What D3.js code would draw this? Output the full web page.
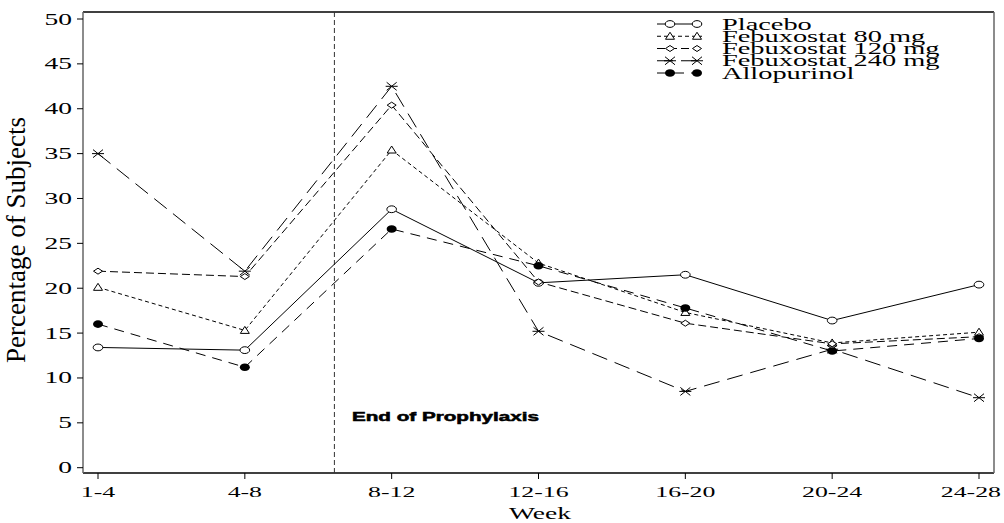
<!DOCTYPE html>
<html>
<head>
<meta charset="utf-8">
<script src="https://cdn.jsdelivr.net/npm/d3@7"></script>
<style>
  body { margin: 0; background: #fff; }
  svg { display: block; }
</style>
</head>
<body>
<div id="chart"></div>
<script>
// data
const weeks = ["1-4", "4-8", "8-12", "12-16", "16-20", "20-24", "24-28"];
const placebo = [13.4, 13.1, 28.8, 20.6, 21.5, 16.4, 20.4];
const febux80 = [20.1, 15.3, 35.4, 22.8, 17.3, 13.9, 15.1];
const febux120 = [21.9, 21.3, 40.4, 20.7, 16.1, 13.8, 14.6];
const febux240 = [35.0, 21.9, 42.5, 15.2, 8.5, 13.2, 7.8];
const allopurinol = [16.0, 11.2, 26.6, 22.5, 17.8, 13.0, 14.4];
const yTicks = [0, 5, 10, 15, 20, 25, 30, 35, 40, 45, 50];
const prophylaxisEnd = 1.61; // between 4-8 and 8-12

const series = [
  { name: "Placebo", values: placebo, dash: null, marker: "circle" },
  { name: "Febuxostat 80 mg", values: febux80, dash: "4,3", marker: "triangle" },
  { name: "Febuxostat 120 mg", values: febux120, dash: "8,4", marker: "diamond" },
  { name: "Febuxostat 240 mg", values: febux240, dash: "16,8", marker: "star" },
  { name: "Allopurinol", values: allopurinol, dash: "10,7", marker: "dot" }
];

const W = 1004, H = 523;
const SX = 1.72; // glyphs in the picture are wide
const serif = "'Liberation Serif', 'Times New Roman', serif";
const frame = { left: 83, right: 994, top: 12, bottom: 473 };

const svg = d3.select("#chart").append("svg")
  .attr("width", W).attr("height", H);

const x = d3.scaleLinear().domain([0, weeks.length - 1]).range([98, 979]);
const y = d3.scaleLinear().domain([0, 50]).range([467.7, 19]);

function wideText(g, tx, ty, str, anchor, size, opts = {}) {
  return g.append("text")
    .attr("transform", `translate(${tx},${ty}) scale(${SX},1)`)
    .attr("text-anchor", anchor)
    .style("font-family", opts.family || serif)
    .style("font-size", size + "px")
    .style("font-weight", opts.weight || "normal")
    .attr("fill", "#000")
    .text(str);
}

function drawMarker(g, type, cx, cy) {
  if (type === "circle") {
    g.append("ellipse").attr("cx", cx).attr("cy", cy).attr("rx", 4.8).attr("ry", 3.4)
      .attr("fill", "#fff").attr("stroke", "#000").attr("stroke-width", 1);
  } else if (type === "dot") {
    g.append("ellipse").attr("cx", cx).attr("cy", cy).attr("rx", 5).attr("ry", 3.8)
      .attr("fill", "#000");
  } else if (type === "triangle") {
    g.append("path")
      .attr("d", `M${cx - 4.5},${cy + 3}L${cx + 4.5},${cy + 3}L${cx},${cy - 4}Z`)
      .attr("fill", "#fff").attr("stroke", "#000").attr("stroke-width", 1);
  } else if (type === "diamond") {
    g.append("path")
      .attr("d", `M${cx - 4.5},${cy}L${cx},${cy - 3}L${cx + 4.5},${cy}L${cx},${cy + 3}Z`)
      .attr("fill", "#fff").attr("stroke", "#000").attr("stroke-width", 1);
  } else if (type === "star") {
    g.append("path")
      .attr("d", `M${cx - 5},${cy - 4}L${cx + 5},${cy + 4}M${cx - 5},${cy + 4}L${cx + 5},${cy - 4}M${cx - 6},${cy}L${cx + 6},${cy}`)
      .attr("fill", "none").attr("stroke", "#000").attr("stroke-width", 1);
  }
}

// frame
svg.append("line").attr("x1", frame.left).attr("x2", frame.right)
  .attr("y1", frame.top).attr("y2", frame.top).attr("stroke", "#000").attr("stroke-width", 1.5);
svg.append("line").attr("x1", frame.left).attr("x2", frame.right)
  .attr("y1", frame.bottom).attr("y2", frame.bottom).attr("stroke", "#000").attr("stroke-width", 1.5);
svg.append("line").attr("x1", frame.left).attr("x2", frame.left)
  .attr("y1", frame.top).attr("y2", frame.bottom).attr("stroke", "#666").attr("stroke-width", 1.5);
svg.append("line").attr("x1", frame.right).attr("x2", frame.right)
  .attr("y1", frame.top).attr("y2", frame.bottom).attr("stroke", "#666").attr("stroke-width", 1.5);

// y axis ticks
const yAxis = svg.append("g");
yTicks.forEach(t => {
  yAxis.append("line").attr("x1", frame.left - 6).attr("x2", frame.left)
    .attr("y1", y(t)).attr("y2", y(t)).attr("stroke", "#000");
  wideText(yAxis, 72, y(t) + 5.5, t, "end", 16);
});

// x axis ticks (last label is pulled in so it stays inside the picture)
const xAxis = svg.append("g");
weeks.forEach((w, i) => {
  xAxis.append("line").attr("x1", x(i)).attr("x2", x(i))
    .attr("y1", frame.bottom).attr("y2", frame.bottom + 6).attr("stroke", "#000");
  const last = i === weeks.length - 1;
  wideText(xAxis, last ? 1001 : x(i), 497, w, last ? "end" : "middle", 15);
});

// axis titles
wideText(svg, 540, 519, "Week", "middle", 16);
svg.append("text")
  .attr("transform", `translate(25,240) rotate(-90)`)
  .attr("text-anchor", "middle")
  .style("font-family", serif)
  .style("font-size", "27px")
  .text("Percentage of Subjects");

// end of prophylaxis
svg.append("line")
  .attr("x1", x(prophylaxisEnd)).attr("x2", x(prophylaxisEnd))
  .attr("y1", frame.top).attr("y2", frame.bottom)
  .attr("stroke", "#333").attr("stroke-width", 1).attr("stroke-dasharray", "5,3");
wideText(svg, 352, 421, "End of Prophylaxis", "start", 12,
  { family: "'Liberation Sans', Arial, sans-serif", weight: "bold" })
  .attr("stroke", "#000").attr("stroke-width", 0.5);

// lines
const line = d3.line().x((d, i) => x(i)).y(d => y(d));
const plot = svg.append("g");
series.forEach(s => {
  plot.append("path")
    .datum(s.values)
    .attr("d", line)
    .attr("fill", "none")
    .attr("stroke", "#000")
    .attr("stroke-width", 1)
    .attr("stroke-dasharray", s.dash);
});
series.forEach(s => {
  s.values.forEach((v, i) => drawMarker(plot, s.marker, x(i), y(v)));
});

// legend
const legend = svg.append("g");
series.forEach((s, k) => {
  const ly = 24 + k * 12.25;
  legend.append("line").attr("x1", 657).attr("x2", 702)
    .attr("y1", ly).attr("y2", ly)
    .attr("stroke", "#000").attr("stroke-width", 1)
    .attr("stroke-dasharray", s.dash);
  drawMarker(legend, s.marker, 670, ly);
  drawMarker(legend, s.marker, 697, ly);
  wideText(legend, 722, ly + 5.5, s.name, "start", 16.5);
});
</script>
</body>
</html>
